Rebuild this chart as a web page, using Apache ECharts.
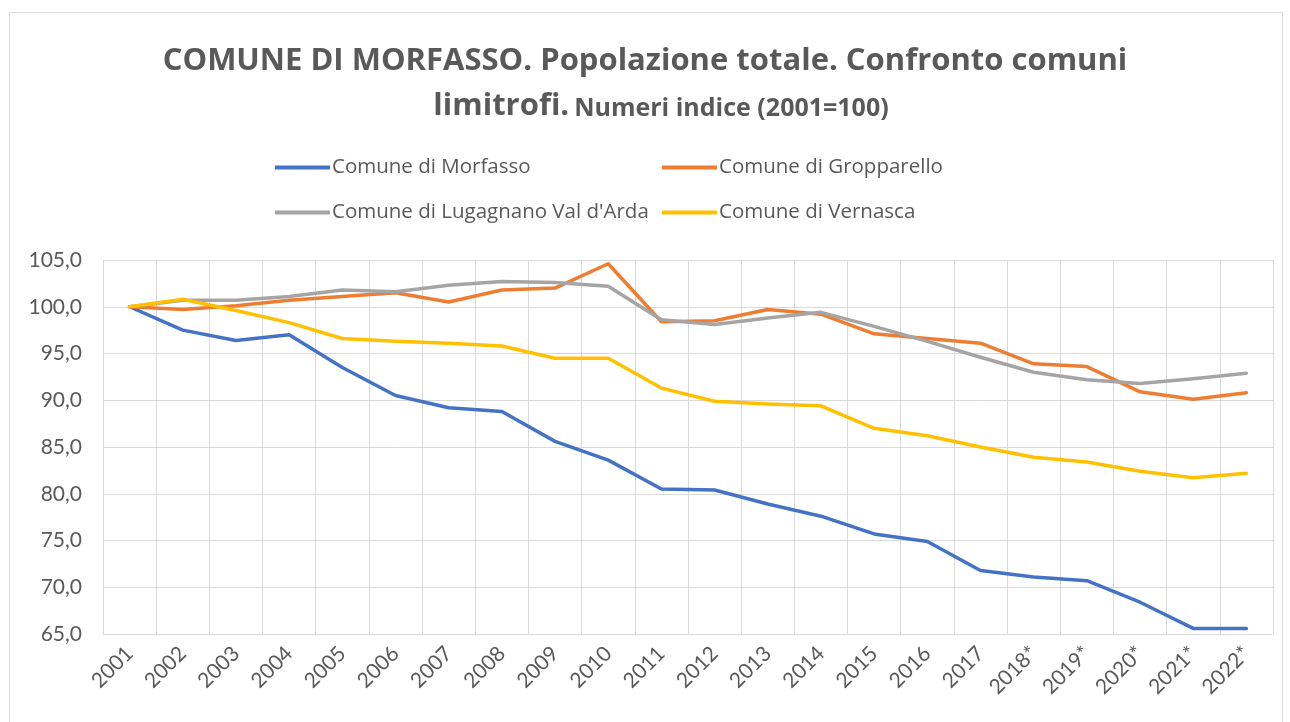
<!DOCTYPE html>
<html>
<head>
<meta charset="utf-8">
<script src="https://cdn.jsdelivr.net/npm/echarts@6/dist/echarts.min.js"></script>
<style>
html,body{margin:0;padding:0;background:#fff;}
#chart{width:1290px;height:722px;}
</style>
</head>
<body>
<div id="chart"></div>
<script>
const years = ['2001','2002','2003','2004','2005','2006','2007','2008','2009','2010','2011','2012','2013','2014','2015','2016','2017','2018*','2019*','2020*','2021*','2022*'];
const seriesNames = ['Comune di Morfasso','Comune di Gropparello',"Comune di Lugagnano Val d'Arda",'Comune di Vernasca'];
const morfasso = [100,97.5,96.4,97.0,93.5,90.5,89.2,88.8,85.6,83.6,80.5,80.4,78.9,77.6,75.7,74.9,71.8,71.1,70.7,68.4,65.6,65.6];
const gropparello = [100,99.7,100.1,100.7,101.1,101.5,100.5,101.8,102.0,104.6,98.4,98.5,99.7,99.2,97.1,96.6,96.1,93.9,93.6,90.9,90.1,90.8];
const lugagnano = [100,100.7,100.7,101.1,101.8,101.6,102.3,102.7,102.6,102.2,98.6,98.1,98.8,99.4,97.9,96.3,94.6,93.0,92.2,91.8,92.3,92.9];
const vernasca = [100,100.8,99.6,98.3,96.6,96.3,96.1,95.8,94.5,94.5,91.3,89.9,89.6,89.4,87.0,86.2,85.0,83.9,83.4,82.4,81.7,82.2];
const colors = ['#4472C4','#ED7D31','#A5A5A5','#FFC000'];
const values = [morfasso, gropparello, lugagnano, vernasca];
const titleLine1 = 'COMUNE DI MORFASSO. Popolazione totale. Confronto comuni';
const titleLine2a = 'limitrofi.';
const titleLine2b = 'Numeri indice (2001=100)';

const FONT = 'Lato';
const TFONT = 'Open Sans';
const TXT = '#595959';
const chart = echarts.init(document.getElementById('chart'));

const legendPos = [[275,157],[662,157],[275,202],[662,202]];
const legends = seriesNames.map((n,i)=>({
  data:[n], left:legendPos[i][0], top:legendPos[i][1], orient:'horizontal',
  icon:'rect', itemWidth:55, itemHeight:4, itemGap:0, selectedMode:false, padding:0,
  textStyle:{fontFamily:TFONT, fontSize:20.5, color:TXT, padding:[0,0,0,-3]}
}));

chart.setOption({
  animation:false,
  color:colors,
  title:[{
    text:titleLine1, left:'center', top:41,
    textStyle:{fontFamily:TFONT, fontSize:31, fontWeight:'bold', color:TXT}
  },{
    text:'{a|'+titleLine2a+'} {b|'+titleLine2b+'}', left:656, top:86,
    textAlign:'center',
    textStyle:{rich:{
      a:{fontFamily:TFONT, fontSize:31, fontWeight:'bold', color:TXT},
      b:{fontFamily:TFONT, fontSize:25, fontWeight:'bold', color:TXT, padding:[5,0,0,0]}
    }}
  }],
  legend:legends,
  graphic:[{type:'rect', shape:{x:9.5,y:12.5,width:1273,height:730}, style:{fill:'none', stroke:'#d9d9d9', lineWidth:1}, silent:true}],
  grid:{left:103, right:17, top:260, bottom:88, containLabel:false},
  xAxis:{
    type:'category', data:years, boundaryGap:true,
    axisLine:{show:true, lineStyle:{color:'#d9d9d9', width:1}},
    axisTick:{show:false},
    splitLine:{show:true, lineStyle:{color:'#d9d9d9', width:1}},
    axisLabel:{rotate:45, margin:16, interval:0, fontFamily:FONT, fontSize:21, color:TXT}
  },
  yAxis:{
    type:'value', min:65, max:105, interval:5,
    axisLine:{show:false}, axisTick:{show:false},
    splitLine:{show:true, lineStyle:{color:'#d9d9d9', width:1}},
    axisLabel:{margin:21, fontFamily:FONT, fontSize:21, color:TXT,
      formatter:v=>v.toFixed(1).replace('.',',')}
  },
  series:seriesNames.map((n,i)=>({
    name:n, type:'line', data:values[i], symbol:'none', showSymbol:false,
    lineStyle:{width:3.5, color:colors[i], cap:'round', join:'round'},
    itemStyle:{color:colors[i]}
  }))
});
</script>
</body>
</html>
